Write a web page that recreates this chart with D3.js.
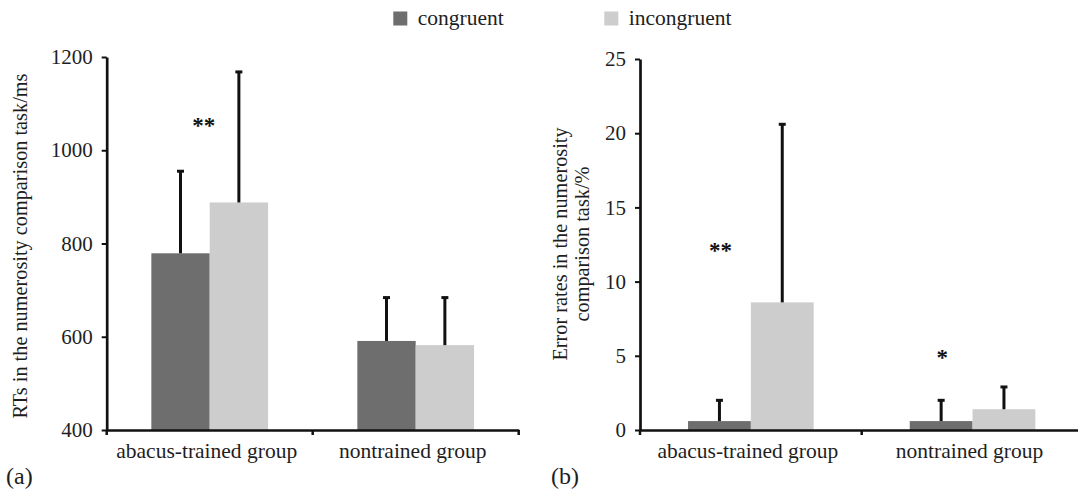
<!DOCTYPE html>
<html><head><meta charset="utf-8">
<script src="https://cdn.jsdelivr.net/npm/d3@7"></script>
<style>
html,body{margin:0;padding:0;background:#fff;}
svg text{font-family:'Liberation Serif','Times New Roman',Times,serif !important;fill:#1e1e1e;}
svg text.star{fill:#111;font-weight:bold;}
</style></head>
<body><svg id="c" width="1078" height="494"></svg>
<script>
const groups = ["abacus-trained group", "nontrained group"];
const series = ["congruent", "incongruent"];
const colors = ["#6e6e6e", "#cdcdcd"];
// Panel (a): reaction times (ms)
const rtMean = { "congruent": [779, 591], "incongruent": [888, 582] };
const rtErr  = { "congruent": [955, 684], "incongruent": [1168, 684] };
const rtTicks = [400, 600, 800, 1000, 1200];
// Panel (b): error rates (%)
const erMean = { "congruent": [0.6, 0.6], "incongruent": [8.6, 1.4] };
const erErr  = { "congruent": [2.0, 2.0], "incongruent": [20.6, 2.9] };
const erTicks = [0, 5, 10, 15, 20, 25];
const rtStars = [{ group: 0, label: "**", value: 1061 }];
const erStars = [{ group: 0, label: "**", value: 12.35 }, { group: 1, label: "*", value: 5.15 }];

const svg = d3.select("#c");
const FS = 21.5;

function panel(opt) {
  const g = svg.append("g");
  const x0 = d3.scaleBand().domain(groups).range([opt.left, opt.right]).paddingInner(0).paddingOuter(0);
  const x1 = d3.scaleBand().domain(series).range([0, x0.bandwidth()]).paddingInner(0).paddingOuter(0.765);
  const y = d3.scaleLinear().domain(opt.domain).range([opt.bottom, opt.top]);

  series.forEach((s, si) => {
    g.selectAll(null).data(groups).enter().append("rect")
      .attr("x", d => x0(d) + x1(s))
      .attr("width", x1.bandwidth())
      .attr("y", (d, i) => y(opt.mean[s][i]))
      .attr("height", (d, i) => y(opt.domain[0]) - y(opt.mean[s][i]))
      .attr("fill", colors[si]);
  });
  series.forEach((s) => {
    groups.forEach((gname, i) => {
      const cx = x0(gname) + x1(s) + x1.bandwidth() / 2;
      g.append("line").attr("x1", cx).attr("x2", cx)
        .attr("y1", y(opt.mean[s][i])).attr("y2", y(opt.err[s][i]))
        .attr("stroke", "#111").attr("stroke-width", 3);
      g.append("line").attr("x1", cx - 3.5).attr("x2", cx + 3.5)
        .attr("y1", y(opt.err[s][i])).attr("y2", y(opt.err[s][i]))
        .attr("stroke", "#111").attr("stroke-width", 3);
    });
  });
  const ya = g.append("g").attr("transform", `translate(${opt.left},0)`)
    .call(d3.axisLeft(y).tickValues(opt.ticks).tickFormat(d3.format("d")).tickSize(5).tickSizeOuter(0).tickPadding(9));
  ya.attr("font-family", null);
  ya.select(".domain").attr("stroke", "#111").attr("stroke-width", 2.7);
  ya.selectAll(".tick line").attr("stroke", "#111").attr("stroke-width", 2);
  ya.selectAll(".tick text").attr("font-size", 21).attr("fill", "#1e1e1e");
  const xa = g.append("g").attr("transform", `translate(0,${opt.bottom})`)
    .call(d3.axisBottom(x0).tickValues([]).tickSizeOuter(0));
  xa.select(".domain").attr("stroke", "#111").attr("stroke-width", 2.7);
  const bounds = [opt.left, x0(groups[1]), opt.right];
  bounds.forEach(b => g.append("line").attr("x1", b).attr("x2", b)
    .attr("y1", opt.bottom).attr("y2", opt.bottom + 5).attr("stroke", "#111").attr("stroke-width", 2.5));
  groups.forEach(gname => g.append("text")
    .attr("x", x0(gname) + x0.bandwidth() / 2 - 3).attr("y", opt.bottom + 28)
    .attr("text-anchor", "middle").attr("font-size", FS).text(gname));
  opt.stars.forEach(st => g.append("text").attr("class", "star")
    .attr("x", opt.starX(x0, x1, groups[st.group])).attr("y", y(st.value) + 11)
    .attr("text-anchor", "middle").attr("font-size", 23).text(st.label));
  const tt = g.append("text").attr("transform", `translate(${opt.titleX},${opt.titleY}) rotate(-90)`)
    .attr("text-anchor", "middle").attr("font-size", 20.3);
  opt.title.forEach((line, i) => tt.append("tspan").attr("x", 0).attr("dy", i === 0 ? 0 : 22).text(line));
  g.append("text").attr("x", opt.labelX).attr("y", 484).attr("font-size", 24).text(opt.label);
}

panel({ left: 106.7, right: 518.7, top: 57, bottom: 430, domain: [400, 1200], ticks: rtTicks,
  mean: rtMean, err: rtErr, stars: rtStars, title: ["RTs in the numerosity comparison task/ms"],
  starX: (x0, x1, gname) => x0(gname) + x0.bandwidth() / 2 - 6,
  titleX: 27, titleY: 246, label: "(a)", labelX: 6 });
panel({ left: 640, right: 1083.4, top: 59, bottom: 430, domain: [0, 25], ticks: erTicks,
  mean: erMean, err: erErr, stars: erStars, title: ["Error rates in the numerosity", "comparison task/%"],
  starX: (x0, x1, gname) => x0(gname) + x1(series[0]) + x1.bandwidth() / 2 + 1,
  titleX: 567, titleY: 244, label: "(b)", labelX: 551 });

const leg = svg.append("g");
const legX = [393.3, 604.3];
series.forEach((s, i) => {
  leg.append("rect").attr("x", legX[i]).attr("y", 11.5).attr("width", 14).attr("height", 14).attr("fill", colors[i]);
  leg.append("text").attr("x", legX[i] + 24.5).attr("y", 25).attr("font-size", FS).text(s);
});
</script></body></html>
